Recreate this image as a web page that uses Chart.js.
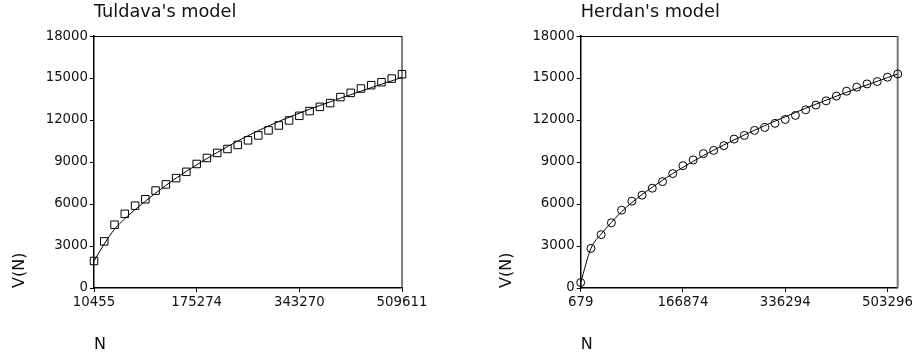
<!DOCTYPE html>
<html><head><meta charset="utf-8">
<script src="https://cdn.jsdelivr.net/npm/chart.js@4.4.1/dist/chart.umd.min.js"></script>
<style>
html,body{margin:0;padding:0;background:#fff;width:915px;height:360px;overflow:hidden}
canvas{position:absolute;top:0}
</style></head>
<body>
<canvas id="c1" width="457" height="360" style="left:0"></canvas>
<canvas id="c2" width="458" height="360" style="left:457px"></canvas>
<script>
// ---- data ----
const tuldavaN = ['10455','','','','','','','','','',
                  '175274','','','','','','','','','',
                  '343270','','','','','','','','','',
                  '509611'];
const tuldavaObserved = [1930,3330,4520,5300,5880,6340,6960,7400,7850,8300,
                         8860,9290,9650,9930,10220,10550,10900,11260,11610,11970,
                         12300,12640,12940,13210,13640,13940,14250,14490,14700,14960,
                         15270];
const tuldavaModel = [1930,3150,4200,4950,5600,6200,6780,7330,7850,8340,
                      8800,9250,9680,10100,10500,10880,11240,11580,11900,12200,
                      12490,12770,13040,13300,13560,13810,14060,14310,14560,14800,
                      15050];

const herdanN = ['679','','','','','','','','','',
                 '166874','','','','','','','','','',
                 '336294','','','','','','','','','',
                 '503296',''];
const herdanObserved = [390,2830,3810,4660,5560,6200,6630,7130,7600,8170,
                        8740,9150,9600,9830,10170,10640,10900,11260,11470,11760,
                        12040,12330,12730,13070,13370,13710,14060,14350,14580,14750,
                        15060,15290];
const herdanModel = [390,2830,3850,4680,5450,6100,6680,7200,7700,8170,
                     8620,9050,9460,9850,10220,10580,10930,11270,11600,11920,
                     12230,12540,12840,13130,13420,13700,13980,14250,14510,14770,
                     15030,15280];

const yMin = 0, yMax = 18000, yStep = 3000;

// ---- drawing ----
const FONT = 'DejaVu Sans';
const TXT = '#111';

const framePlugin = {
  id: 'frame',
  beforeDatasetsDraw(chart, args, o) {
    const {ctx, chartArea: a} = chart;
    ctx.save();
    ctx.strokeStyle = '#000';
    ctx.lineWidth = 1;
    ctx.beginPath();
    ctx.moveTo(a.left, a.top + 0.5);
    ctx.lineTo(a.right, a.top + 0.5);
    ctx.stroke();
    ctx.strokeStyle = o.rightColor;
    ctx.lineWidth = o.rightWidth;
    ctx.beginPath();
    ctx.moveTo(a.right, a.top);
    ctx.lineTo(a.right, a.bottom);
    ctx.stroke();
    ctx.restore();
  }
};

function makeChart(id, title, labels, observed, model, cfg) {
  return new Chart(document.getElementById(id), {
    type: 'line',
    data: {
      labels: labels,
      datasets: [
        {
          data: model,
          borderColor: '#000',
          borderWidth: 1,
          pointRadius: 0,
          cubicInterpolationMode: 'monotone',
          fill: false,
          clip: false
        },
        {
          data: observed,
          showLine: false,
          pointStyle: cfg.pointStyle,
          pointRadius: cfg.pointRadius,
          pointBorderColor: '#000',
          pointBorderWidth: 1,
          pointBackgroundColor: 'rgba(0,0,0,0)',
          clip: false
        }
      ]
    },
    options: {
      responsive: false,
      animation: false,
      devicePixelRatio: 1,
      layout: { padding: { left: cfg.padLeft, right: cfg.padRight, top: 0, bottom: 6 } },
      plugins: {
        legend: { display: false },
        tooltip: { enabled: false },
        title: {
          display: true,
          text: title,
          align: 'start',
          fullSize: false,
          color: TXT,
          font: { family: FONT, size: 17.7, weight: 'normal' },
          padding: { top: 1.5, bottom: 13.3 }
        },
        frame: { rightColor: cfg.rightColor, rightWidth: cfg.rightWidth }
      },
      scales: {
        x: {
          type: 'category',
          offset: false,
          grid: {
            display: true,
            drawOnChartArea: false,
            drawTicks: true,
            tickLength: 4,
            tickColor: (c) => labels[c.index] ? '#000' : 'rgba(0,0,0,0)',
            color: 'rgba(0,0,0,0)'
          },
          border: { display: true, color: '#000', width: 1.5 },
          ticks: {
            autoSkip: false,
            maxRotation: 0,
            minRotation: 0,
            padding: 3,
            color: TXT,
            font: { family: FONT, size: 13.3 },
            callback: (v, i) => labels[i]
          },
          title: {
            display: true,
            text: 'N',
            align: 'start',
            color: TXT,
            font: { family: FONT, size: 16 },
            padding: { top: 0, bottom: 0 }
          },
          afterFit: (s) => { s.height = 66; }
        },
        y: {
          min: yMin,
          max: yMax,
          grid: {
            display: true,
            drawOnChartArea: false,
            drawTicks: true,
            tickLength: 4,
            tickColor: '#000'
          },
          border: { display: true, color: '#000', width: 1.5 },
          ticks: {
            stepSize: yStep,
            padding: 2,
            color: TXT,
            font: { family: FONT, size: 13.3 },
            callback: (v) => String(v)
          },
          title: {
            display: true,
            text: 'V(N)',
            align: 'start',
            color: TXT,
            font: { family: FONT, size: 16 },
            padding: { top: 0, bottom: 0 }
          },
          afterFit: (s) => { s.width = cfg.yWidth; }
        }
      }
    },
    plugins: [framePlugin]
  });
}

makeChart('c1', "Tuldava's model", tuldavaN, tuldavaObserved, tuldavaModel,
  { padLeft: 10, padRight: 55, yWidth: 84, rightColor: '#000', rightWidth: 1,
    pointStyle: 'rect', pointRadius: 5.3 });
makeChart('c2', "Herdan's model", herdanN, herdanObserved, herdanModel,
  { padLeft: 40, padRight: 17.3, yWidth: 83.7, rightColor: '#777', rightWidth: 2,
    pointStyle: 'circle', pointRadius: 4 });
</script>
</body></html>
